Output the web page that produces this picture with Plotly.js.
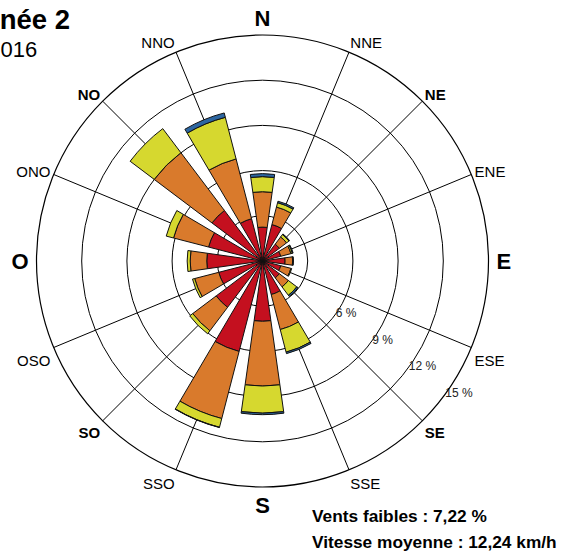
<!DOCTYPE html>
<html>
<head>
<meta charset="utf-8">
<script src="https://cdn.plot.ly/plotly-3.0.1.min.js"></script>
<style>html,body{margin:0;padding:0;background:#fff;}#chart{width:565px;height:555px;}</style>
</head>
<body>
<div id="chart"></div>
<script>
// Directions (degrees clockwise from North) and labels
const directions = ["N","NNE","NE","ENE","E","ESE","SE","SSE","S","SSO","SO","OSO","O","ONO","NO","NNO"];
const angles = [0,22.5,45,67.5,90,112.5,135,157.5,180,202.5,225,247.5,270,292.5,315,337.5];
// Frequency (%) per speed class, per direction
const classLow    = [2.25,2.5,1.4,1.25,1.5,1.25,1.4,2.3,4.0,6.2,3.85,3.0,3.7,3.7,4.2,2.9];
const classMid    = [2.35,1.2,0.6,0.7,0.5,0.7,0.75,2.4,4.3,4.6,1.95,1.65,1.1,2.4,4.8,4.1];
const classHigh   = [1.0,0.3,0.2,0.1,0.03,0.05,0.7,1.55,1.8,0.6,0.25,0.15,0.2,0.5,2.0,2.85];
const classStrong = [0.2,0.1,0.05,0.05,0.02,0,0.1,0.1,0.1,0.02,0,0,0,0,0,0.3];
const classNames  = ["Classe 1","Classe 2","Classe 3","Classe 4"];
const classColors = ["#C4101F","#D97A2C","#D6D82F","#2D66A1"];
// Radial rings and their labels
const radialTicks = [3,6,9,12,15];
const radialLabelValues = [6,9,12,15];
const radialLabelText   = ["6 %","9 %","12 %","15 %"];
const cardinal = ["N","E","S","O"];
const intercardinal = ["NE","SE","SO","NO"];
const loweredLabels = ["ESE","OSO"];
const cardinalShift = {N: '-3px', S: '4px', E: '0px', O: '0px'};

const minorIdx = directions.map((d,i)=>i).filter(i => !cardinal.includes(directions[i]));
const cardIdx  = directions.map((d,i)=>i).filter(i => cardinal.includes(directions[i]));
const minorVals = minorIdx.map(i => angles[i]);
const minorText = minorIdx.map(i => {
  const d = directions[i];
  if (intercardinal.includes(d)) return '<b>' + d + '</b>';
  if (loweredLabels.includes(d)) return '<span style="baseline-shift:-7px">' + d + '</span>';
  return d;
});
const cardVals = cardIdx.map(i => angles[i]);
const cardText = cardIdx.map(i => '<span style="baseline-shift:' + cardinalShift[directions[i]] + '"><b>' + directions[i] + '</b></span>');

const series = [classLow, classMid, classHigh, classStrong];
const traces = series.map((vals, i) => ({
  type: 'barpolar',
  r: vals,
  theta: angles,
  width: 16,
  name: classNames[i],
  marker: {color: classColors[i], line: {color: '#111', width: 1}},
  hoverinfo: 'skip'
}));
// Ring labels, placed along a ray in the lower-right quadrant
traces.push({
  type: 'scatterpolar', mode: 'text',
  r: radialLabelValues,
  theta: radialLabelValues.map(() => 126),
  text: radialLabelText,
  textposition: 'middle right',
  textfont: {size: 12, color: '#222', family: 'Arial, Liberation Sans, sans-serif'},
  hoverinfo: 'skip', cliponaxis: false
});
// Empty trace to hold the cardinal-label overlay
traces.push({type: 'scatterpolar', r: [], theta: [], subplot: 'polar2', hoverinfo: 'skip'});

const fullDomain = {x: [0, 1], y: [0, 1]};

const layout = {
  width: 565, height: 555,
  margin: {l: 36, r: 76, t: 35, b: 68},
  paper_bgcolor: '#fff',
  showlegend: false,
  font: {family: 'Arial, Liberation Sans, sans-serif', color: '#000'},
  title: {
    text: '<b>Rose des vents – Année 2</b>',
    xref: 'container', yref: 'container',
    x: 70/565, xanchor: 'right',
    y: 1 - 19/555, yanchor: 'middle',
    font: {size: 27.5, color: '#000'}
  },
  polar: {
    domain: fullDomain,
    barmode: 'stack',
    bgcolor: '#fff',
    angularaxis: {
      direction: 'clockwise', rotation: 90,
      tickmode: 'array', tickvals: minorVals, ticktext: minorText,
      tickfont: {size: 15, color: '#000'},
      showgrid: true, gridcolor: '#000', gridwidth: 1,
      showline: true, linecolor: '#000', linewidth: 1.2,
      ticks: ''
    },
    radialaxis: {
      range: [0, 15],
      tickmode: 'array', tickvals: radialTicks,
      showticklabels: false,
      showgrid: true, gridcolor: '#000', gridwidth: 1,
      showline: false, ticks: ''
    }
  },
  polar2: {
    domain: fullDomain,
    bgcolor: 'rgba(0,0,0,0)',
    angularaxis: {
      direction: 'clockwise', rotation: 90,
      tickmode: 'array', tickvals: cardVals, ticktext: cardText,
      tickfont: {size: 22, color: '#000'},
      showgrid: false, showline: false,
      ticks: 'outside', ticklen: 3, tickcolor: 'rgba(0,0,0,0)'
    },
    radialaxis: {visible: false, range: [0, 15]}
  },
  annotations: [
    {text: 'Du 01/01/2016 au 31/12/2016', xref: 'paper', yref: 'paper',
     x: (39-36)/453, xanchor: 'right', y: (487-49)/452, yanchor: 'middle',
     showarrow: false, font: {size: 22, color: '#000'}},
    {text: '<b>Vents faibles : 7,22 %</b>', xref: 'paper', yref: 'paper',
     x: (310-36)/453, xanchor: 'left', y: (487-516)/452, yanchor: 'middle',
     showarrow: false, font: {size: 17.3, color: '#000'}},
    {text: '<b>Vitesse moyenne : 12,24 km/h</b>', xref: 'paper', yref: 'paper',
     x: (310-36)/453, xanchor: 'left', y: (487-542)/452, yanchor: 'middle',
     showarrow: false, font: {size: 17.3, color: '#000'}}
  ]
};

Plotly.newPlot('chart', traces, layout, {displayModeBar: false, staticPlot: true});
</script>
</body>
</html>
